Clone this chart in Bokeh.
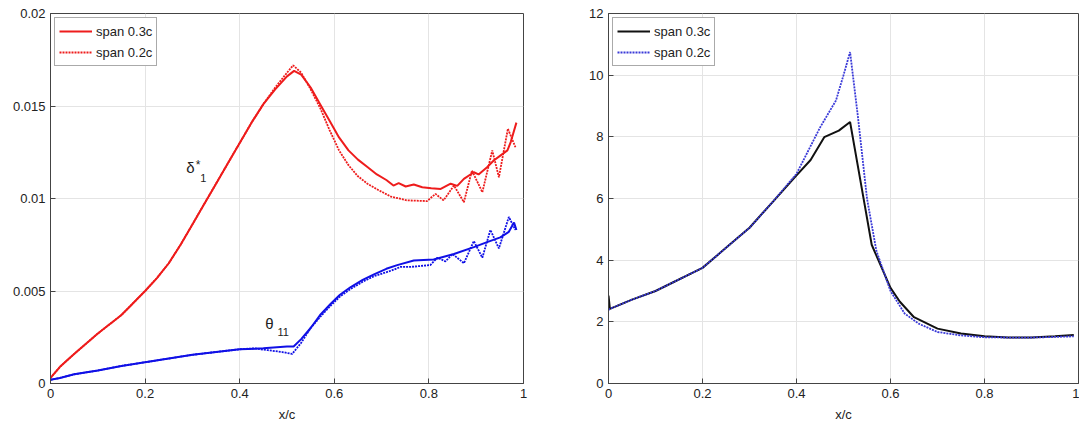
from bokeh.plotting import figure
from bokeh.models import FixedTicker, Label, Range1d
from bokeh.layouts import row
from bokeh.embed import file_html
from bokeh.resources import INLINE

FONT = "Liberation Sans"

# ---------------- data: left panel ----------------
x_delta_03 = [0, 0.02, 0.05, 0.1, 0.15, 0.2, 0.225, 0.25, 0.275, 0.3, 0.325, 0.35, 0.375, 0.4,
              0.425, 0.45, 0.475, 0.5, 0.515, 0.53, 0.55, 0.57, 0.59, 0.61, 0.63, 0.65, 0.67,
              0.69, 0.71, 0.725, 0.736, 0.751, 0.768, 0.786, 0.805, 0.825, 0.846, 0.86, 0.874,
              0.895, 0.905, 0.923, 0.937, 0.951, 0.966, 0.973, 0.985]
y_delta_03 = [0.0003, 0.0009, 0.0016, 0.0027, 0.0037, 0.0050, 0.0057, 0.0065, 0.0075, 0.0086,
              0.0097, 0.0108, 0.0119, 0.0130, 0.0141, 0.0151, 0.0159, 0.0166, 0.0169, 0.0167,
              0.0160, 0.0151, 0.0142, 0.0133, 0.0126, 0.0121, 0.0117, 0.0113, 0.0110, 0.0107,
              0.01083, 0.01065, 0.01076, 0.01061, 0.01055, 0.01052, 0.0108, 0.01068, 0.01106,
              0.01142, 0.0113, 0.01169, 0.01205, 0.01232, 0.0126, 0.01305, 0.0141]

x_delta_02 = [0, 0.02, 0.05, 0.1, 0.15, 0.2, 0.225, 0.25, 0.275, 0.3, 0.325, 0.35, 0.375, 0.4,
              0.425, 0.45, 0.475, 0.5, 0.513, 0.53, 0.55, 0.57, 0.59, 0.61, 0.63, 0.65, 0.67,
              0.69, 0.72, 0.754, 0.796, 0.814, 0.831, 0.853, 0.874, 0.891, 0.913, 0.934, 0.948,
              0.967, 0.983]
y_delta_02 = [0.0003, 0.0009, 0.0016, 0.0027, 0.0037, 0.0050, 0.0057, 0.0065, 0.0075, 0.0086,
              0.0097, 0.0108, 0.0119, 0.0130, 0.0141, 0.0151, 0.0160, 0.0168, 0.0172, 0.0168,
              0.0159, 0.0149, 0.0137, 0.0126, 0.0118, 0.0112, 0.0108, 0.0105, 0.0101, 0.0099,
              0.00986, 0.01025, 0.0099, 0.0107, 0.0098, 0.01151, 0.01034, 0.0126, 0.01115,
              0.01377, 0.01277]

x_theta_03 = [0, 0.02, 0.05, 0.1, 0.15, 0.2, 0.25, 0.3, 0.35, 0.4, 0.45, 0.5, 0.514, 0.53, 0.55,
              0.57, 0.592, 0.612, 0.634, 0.66, 0.684, 0.71, 0.733, 0.768, 0.81, 0.853, 0.895,
              0.923, 0.951, 0.969, 0.98, 0.985]
y_theta_03 = [0.0002, 0.0003, 0.0005, 0.0007, 0.00095, 0.00115, 0.00135, 0.00155, 0.0017,
              0.00185, 0.0019, 0.0020, 0.0020, 0.0024, 0.0030, 0.0037, 0.0043, 0.0048, 0.0052,
              0.0056, 0.0059, 0.0062, 0.0064, 0.00665, 0.0067, 0.0070, 0.00737, 0.00764,
              0.0079, 0.0082, 0.0087, 0.0083]

x_theta_02 = [0, 0.02, 0.05, 0.1, 0.15, 0.2, 0.25, 0.3, 0.35, 0.4, 0.43, 0.46, 0.49, 0.511, 0.53,
              0.55, 0.57, 0.592, 0.612, 0.634, 0.66, 0.684, 0.72, 0.74, 0.76, 0.803, 0.818,
              0.835, 0.85, 0.874, 0.895, 0.913, 0.93, 0.948, 0.969, 0.983]
y_theta_02 = [0.0002, 0.0003, 0.0005, 0.0007, 0.00095, 0.00115, 0.00135, 0.00155, 0.0017,
              0.00185, 0.0019, 0.0018, 0.0017, 0.0016, 0.0022, 0.0030, 0.0036, 0.0042, 0.0047,
              0.0051, 0.0055, 0.0058, 0.0061, 0.0063, 0.0063, 0.0064, 0.0068, 0.0066, 0.0070,
              0.0065, 0.0077, 0.0068, 0.0083, 0.0073, 0.0090, 0.0083]

# ---------------- data: right panel ----------------
x_H_03 = [0, 0.003, 0.05, 0.1, 0.14, 0.2, 0.25, 0.3, 0.35, 0.4, 0.43, 0.459, 0.49, 0.514, 0.53,
          0.545, 0.56, 0.58, 0.6, 0.62, 0.65, 0.7, 0.75, 0.8, 0.85, 0.9, 0.95, 0.99]
y_H_03 = [2.85, 2.42, 2.72, 3.0, 3.3, 3.75, 4.4, 5.05, 5.9, 6.75, 7.25, 7.99, 8.2, 8.48, 7.1,
          5.8, 4.5, 3.8, 3.1, 2.65, 2.15, 1.78, 1.62, 1.53, 1.49, 1.49, 1.53, 1.57]

x_H_02 = [0, 0.003, 0.05, 0.1, 0.14, 0.2, 0.25, 0.3, 0.35, 0.4, 0.42, 0.45, 0.484, 0.5, 0.514,
          0.53, 0.55, 0.57, 0.6, 0.63, 0.66, 0.7, 0.75, 0.8, 0.85, 0.9, 0.95, 0.99]
y_H_02 = [2.38, 2.42, 2.72, 3.0, 3.3, 3.75, 4.4, 5.05, 5.9, 6.8, 7.4, 8.3, 9.18, 10.0, 10.75,
          8.74, 6.0, 4.3, 3.0, 2.27, 1.94, 1.67, 1.56, 1.5, 1.49, 1.49, 1.51, 1.53]

x_ticks = [0, 0.2, 0.4, 0.6, 0.8, 1]
x_tick_labels = ["0", "0.2", "0.4", "0.6", "0.8", "1"]
y_ticks_left = [0, 0.005, 0.01, 0.015, 0.02]
y_tick_labels_left = ["0", "0.005", "0.01", "0.015", "0.02"]
y_ticks_right = [0, 2, 4, 6, 8, 10, 12]
y_tick_labels_right = ["0", "2", "4", "6", "8", "10", "12"]

legend_labels = ["span 0.3c", "span 0.2c"]

RED = "#ee1c1c"
BLUE = "#1010e6"
BLUE2 = "#3a3ad8"
BLACK = "#111111"
AXC = "#444444"


def style(p, yticks, ylabels):
    p.xaxis.ticker = FixedTicker(ticks=x_ticks)
    p.xaxis.major_label_overrides = {t: l for t, l in zip(x_ticks, x_tick_labels)}
    p.yaxis.ticker = FixedTicker(ticks=yticks)
    p.yaxis.major_label_overrides = {t: l for t, l in zip(yticks, ylabels)}
    for ax in p.xaxis + p.yaxis:
        ax.major_tick_in = 5
        ax.major_tick_out = 0
        ax.minor_tick_line_color = None
        ax.axis_line_color = AXC
        ax.major_tick_line_color = AXC
        ax.major_label_text_font = FONT
        ax.major_label_text_font_size = "13px"
        ax.major_label_text_color = "#222222"
        ax.axis_label_text_font = FONT
        ax.axis_label_text_font_size = "13px"
        ax.axis_label_text_font_style = "normal"
        ax.axis_label_text_color = "#222222"
    p.xaxis.axis_label = "x/c"
    p.xaxis.axis_label_standoff = 6
    p.xgrid.ticker = FixedTicker(ticks=x_ticks)
    p.ygrid.ticker = FixedTicker(ticks=yticks)
    p.grid.grid_line_color = "#e4e4e4"
    p.grid.grid_line_width = 1
    p.outline_line_color = AXC
    p.background_fill_color = "white"
    p.border_fill_color = "white"


def style_legend(p):
    lg = p.legend[0]
    lg.location = "top_left"
    lg.margin = 4
    lg.padding = 4
    lg.spacing = 3
    lg.glyph_width = 33
    lg.glyph_height = 18
    lg.label_height = 18
    lg.label_standoff = 4
    lg.label_text_font = FONT
    lg.label_text_font_size = "13px"
    lg.label_text_color = "#222222"
    lg.border_line_color = "#555555"
    lg.border_line_width = 1
    lg.background_fill_alpha = 1.0


# ---------------- left figure ----------------
p1 = figure(width=540, height=429, output_backend="svg", toolbar_location=None,
            x_range=Range1d(0, 1), y_range=Range1d(0, 0.02),
            min_border_left=50, min_border_right=17, min_border_top=13, min_border_bottom=46)
p1.line(x_delta_03, y_delta_03, line_color=RED, line_width=2, legend_label=legend_labels[0])
p1.line(x_delta_02, y_delta_02, line_color=RED, line_width=1.8, line_dash="2 1",
        legend_label=legend_labels[1])
p1.line(x_theta_03, y_theta_03, line_color=BLUE, line_width=2)
p1.line(x_theta_02, y_theta_02, line_color=BLUE, line_width=1.8, line_dash="2 1")
style(p1, y_ticks_left, y_tick_labels_left)
style_legend(p1)

ann = dict(text_font=FONT, text_color="#222222", text_baseline="middle", text_align="center")
p1.add_layout(Label(x=0.296, y=0.01167, text="δ", text_font_size="15px", **ann))
p1.add_layout(Label(x=0.312, y=0.0118, text="*", text_font_size="12px", **ann))
p1.add_layout(Label(x=0.323, y=0.0111, text="1", text_font_size="11px", **ann))
p1.add_layout(Label(x=0.463, y=0.00322, text="θ", text_font_size="15px", **ann))
p1.add_layout(Label(x=0.492, y=0.00278, text="11", text_font_size="11px", **ann))

# ---------------- right figure ----------------
p2 = figure(width=539, height=429, output_backend="svg", toolbar_location=None,
            x_range=Range1d(0, 1), y_range=Range1d(0, 12),
            min_border_left=68, min_border_right=1, min_border_top=13, min_border_bottom=46)
p2.line(x_H_03, y_H_03, line_color=BLACK, line_width=2, legend_label=legend_labels[0])
p2.line(x_H_02, y_H_02, line_color=BLUE2, line_width=1.8, line_dash="2 1",
        legend_label=legend_labels[1])
style(p2, y_ticks_right, y_tick_labels_right)
style_legend(p2)
p2.add_layout(Label(x=-0.111, y=6.16, text="H", text_font_size="15px", **ann))
p2.add_layout(Label(x=-0.085, y=5.95, text="11", text_font_size="11px", **ann))

layout = row(p1, p2, spacing=0)

open("out.html", "w").write(file_html(layout, INLINE))
